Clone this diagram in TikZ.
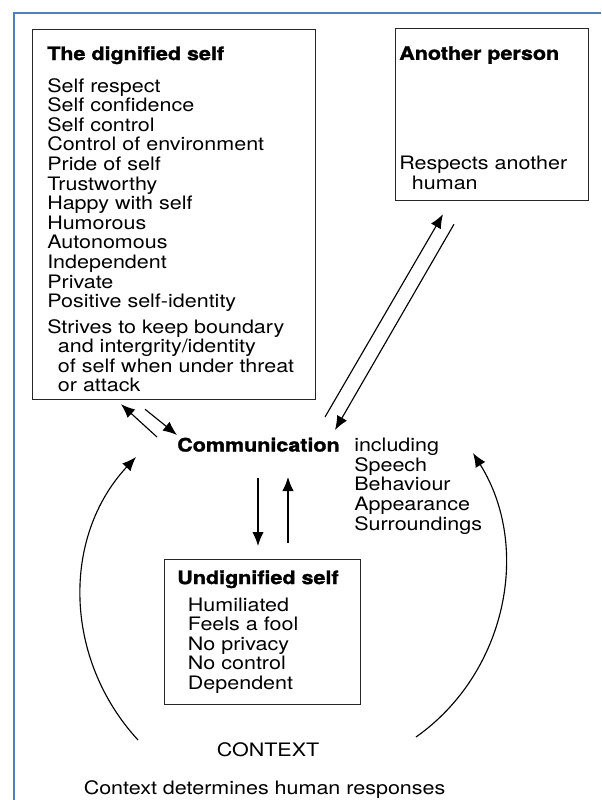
\documentclass[tikz,border=0pt]{standalone}
\usepackage{fontspec}
\setmainfont[FakeStretch=1.16,BoldFeatures={FakeBold=1.5}]{TeX Gyre Heros}
\usepackage{xcolor}
\usetikzlibrary{arrows.meta}

\definecolor{frameblue}{RGB}{79,129,189}
\newcommand{\diagfont}{\fontsize{13.9pt}{14.7pt}\selectfont}

\begin{document}
\begin{tikzpicture}
        [x=0.75pt,y=-0.75pt,
        panel/.style={rectangle,draw=black!85,line width=0.9pt,anchor=north west,inner sep=0pt},
        listtext/.style={anchor=north west,align=left,inner sep=0pt,font=\diagfont},
        plain/.style={anchor=base west,inner sep=0pt,font=\diagfont},
        link/.style={-{Latex[length=10.5pt,width=8.5pt]},line width=0.85pt}]

\useasboundingbox (0,0) rectangle (601,800);

% frame
\draw[frameblue,line width=1.5pt] (14,800) -- (14,13) -- (601,13);

% boxes
\node[panel,minimum width=212.25pt,minimum height=277.5pt] at (32,29) (dignified) {};
\node[panel,minimum width=144.75pt,minimum height=129pt] at (395,28) (another) {};
\node[panel,minimum width=147pt,minimum height=108.75pt] at (164,559) (undignified) {};

% texts
\node[listtext] at (47,46) (dignifiedtext) {{\bfseries The dignified self}\\[9.3pt]
  Self respect\\ Self confidence\\ Self control\\ Control of environment\\
  Pride of self\\ Trustworthy\\ Happy with self\\ Humorous\\ Autonomous\\
  Independent\\ Private\\ Positive self-identity\\[4.4pt]
  Strives to keep boundary\\ \hspace*{8pt}and intergrity/identity\\
  \hspace*{8pt}of self when under threat\\ \hspace*{8pt}or attack};

\node[listtext] at (399,46) (anothertext) {{\bfseries Another person}\\[67.8pt]
  Respects another\\ \hspace*{9.5pt}human};

\node[plain] at (177,451.5) (comm) {\bfseries Communication};

\node[listtext] at (354,438) (media) {including\\ Speech\\ Behaviour\\ Appearance\\ Surroundings};

\node[listtext] at (177,570) (undignifiedtext) {{\bfseries Undignified self}\\[5.5pt]
  \hspace*{8pt}Humiliated\\ \hspace*{8pt}Feels a fool\\ \hspace*{8pt}No privacy\\
  \hspace*{8pt}No control\\ \hspace*{8pt}Dependent};

\node[plain] at (216.5,756.5) (context) {CONTEXT};
\node[plain] at (83.5,794.5) (responses) {Context determines human responses};

%arrows
\draw[link] ([shift={(-20,-14.5)}]comm.base west) -- ([shift={(89,4)}]dignified.south west);
\draw[link] ([shift={(113,9)}]dignified.south west) -- ([shift={(0,-16.5)}]comm.base west);
\draw[link] ([shift={(148,-34.5)}]comm.base west) -- ([shift={(48,13)}]another.south west);
\draw[link] ([shift={(59,23)}]another.south west) -- ([shift={(158,-21.5)}]comm.base west);
\draw[link] ([shift={(81,26.5)}]comm.base west) -- ([shift={(94,-13)}]undignified.north west);
\draw[link] ([shift={(124,-16)}]undignified.north west) -- ([shift={(111,25.5)}]comm.base west);
\draw[link] ([shift={(-78.5,-16.5)}]context.base west) .. controls +(-74.3,-80.7) and +(-74.7,80.3) .. ([shift={(-41,5.5)}]comm.base west);
\draw[link] ([shift={(199.5,-19.5)}]context.base west) .. controls +(90.6,-63.9) and +(58.8,94) .. ([shift={(119,15)}]media.north west);

\end{tikzpicture}
\end{document}
